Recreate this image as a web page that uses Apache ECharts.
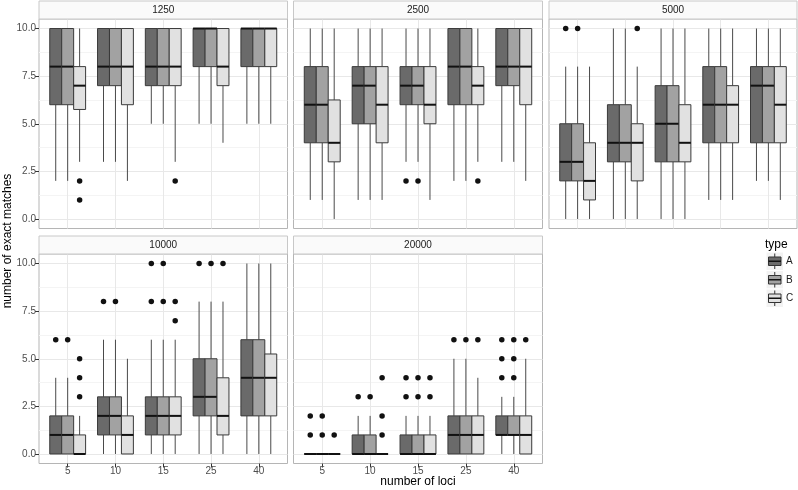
<!DOCTYPE html>
<html><head><meta charset="utf-8">
<script src="https://cdn.jsdelivr.net/npm/echarts@6/dist/echarts.min.js"></script>
<style>html,body{margin:0;padding:0;background:#fff}#c{width:798px;height:490px}</style>
</head><body><div id="c"></div><script>
const panels = ['1250', '2500', '5000', '10000', '20000'];
const loci = ['5', '10', '15', '25', '40'];
const types = ['A', 'B', 'C'];
const yTicks = ['0.0', '2.5', '5.0', '7.5', '10.0'];

// each row: [lower whisker, Q1, median, Q3, upper whisker] for loci 5,10,15,25,40
const box1250A = [[2,6,8,10,10],[3,7,8,10,10],[5,7,8,10,10],[5,8,10,10,10],[5,8,10,10,10]];
const box1250B = [[2,6,8,10,10],[3,7,8,10,10],[5,7,8,10,10],[5,8,10,10,10],[5,8,10,10,10]];
const box1250C = [[3,5.75,7,8,10],[2,6,8,10,10],[3,7,8,10,10],[4,7,8,10,10],[5,8,10,10,10]];
const box2500A = [[1,4,6,8,10],[1,5,7,8,10],[3,6,7,8,10],[2,6,8,10,10],[3,7,8,10,10]];
const box2500B = [[1,4,6,8,10],[1,5,7,8,10],[3,6,7,8,10],[2,6,8,10,10],[3,7,8,10,10]];
const box2500C = [[0,3,4,6.25,10],[1,4,6,8,10],[1,5,6,8,10],[3,6,7,8,10],[2,6,8,10,10]];
const box5000A = [[0,2,3,5,8],[0,3,4,6,10],[0,3,5,7,10],[1,4,6,8,10],[2,4,7,8,10]];
const box5000B = [[0,2,3,5,8],[0,3,4,6,10],[0,3,5,7,10],[1,4,6,8,10],[2,4,7,8,10]];
const box5000C = [[0,1,2,4,8],[0,2,4,5,8],[0,3,4,6,10],[1,4,6,7,10],[1,4,6,8,10]];
const box10000A = [[0,0,1,2,4],[0,1,2,3,6],[0,1,2,3,6],[0,2,3,5,8],[0,2,4,6,10]];
const box10000B = [[0,0,1,2,4],[0,1,2,3,6],[0,1,2,3,6],[0,2,3,5,8],[0,2,4,6,10]];
const box10000C = [[0,0,0,1,2],[0,0,1,2,5],[0,1,2,3,6],[0,1,2,4,8],[0,2,4,5.25,10]];
const box20000A = [[0,0,0,0,0],[0,0,0,1,2],[0,0,0,1,2],[0,0,1,2,5],[0,1,1,2,3]];
const box20000B = [[0,0,0,0,0],[0,0,0,1,2],[0,0,0,1,2],[0,0,1,2,5],[0,1,1,2,3]];
const box20000C = [[0,0,0,0,0],[0,0,0,0,0],[0,0,0,1,2],[0,0,1,2,4],[0,0,1,2,5]];

// outliers: [loci index, value]
const out1250A = [];
const out1250B = [];
const out1250C = [[0,2],[0,1],[2,2]];
const out2500A = [[2,2]];
const out2500B = [[2,2]];
const out2500C = [[3,2]];
const out5000A = [[0,10]];
const out5000B = [[0,10]];
const out5000C = [[1,10]];
const out10000A = [[0,6],[1,8],[2,8],[2,10],[3,10]];
const out10000B = [[0,6],[1,8],[2,8],[2,10],[3,10]];
const out10000C = [[0,3],[0,4],[0,5],[2,7],[2,8],[3,10]];
const out20000A = [[0,1],[0,2],[1,3],[2,3],[2,4],[3,6],[4,4],[4,5],[4,6]];
const out20000B = [[0,1],[0,2],[1,3],[2,3],[2,4],[3,6],[4,4],[4,5],[4,6]];
const out20000C = [[0,1],[1,1],[1,2],[1,4],[2,3],[2,4],[3,6],[4,6]];

const boxes = [
  [box1250A, box1250B, box1250C],
  [box2500A, box2500B, box2500C],
  [box5000A, box5000B, box5000C],
  [box10000A, box10000B, box10000C],
  [box20000A, box20000B, box20000C]
];
const outs = [
  [out1250A, out1250B, out1250C],
  [out2500A, out2500B, out2500C],
  [out5000A, out5000B, out5000C],
  [out10000A, out10000B, out10000C],
  [out20000A, out20000B, out20000C]
];

const FONT = '"Liberation Sans", Arial, sans-serif';
const fills = ['#6a6a6a', '#a2a2a2', '#e1e1e1'];
const dodge = 0.25;

const layout = [
  {left: 39, top: 19, width: 248.5, height: 209.5, yl: true, xl: false},
  {left: 293.5, top: 19, width: 249, height: 209.5, yl: false, xl: false},
  {left: 549, top: 19, width: 248, height: 209.5, yl: false, xl: false},
  {left: 39, top: 254, width: 248.5, height: 209.5, yl: true, xl: true},
  {left: 293.5, top: 254, width: 249, height: 209.5, yl: false, xl: true}
];

function makeRender(t) {
  const off = (t - 1) * dodge;
  return function (params, api) {
    const x = api.value(0) + off;
    const pLo = api.coord([x, api.value(1)]);
    const pQ1 = api.coord([x, api.value(2)]);
    const pMed = api.coord([x, api.value(3)]);
    const pQ3 = api.coord([x, api.value(4)]);
    const pHi = api.coord([x, api.value(5)]);
    const w = api.size([dodge, 0])[0];
    const cx = pMed[0];
    return {
      type: 'group',
      children: [
        {type: 'line', shape: {x1: cx, y1: pHi[1], x2: cx, y2: pQ3[1]}, style: {stroke: '#4a4a4a', lineWidth: 1}},
        {type: 'line', shape: {x1: cx, y1: pQ1[1], x2: cx, y2: pLo[1]}, style: {stroke: '#4a4a4a', lineWidth: 1}},
        {type: 'rect', shape: {x: cx - w / 2, y: pQ3[1], width: w, height: pQ1[1] - pQ3[1]},
          style: {fill: fills[t], stroke: '#3a3a3a', lineWidth: 1}},
        {type: 'line', shape: {x1: cx - w / 2, y1: pMed[1], x2: cx + w / 2, y2: pMed[1]},
          style: {stroke: '#111', lineWidth: 2}}
      ]
    };
  };
}

const grid = [], xAxis = [], yAxis = [], series = [], graphic = [];
layout.forEach((L, g) => {
  grid.push({left: L.left, top: L.top, width: L.width, height: L.height, show: true,
    borderColor: '#b5b5b5', borderWidth: 1, backgroundColor: '#fff'});
  xAxis.push({
    type: 'value', gridIndex: g, min: -0.6, max: 4.6, minInterval: 1, maxInterval: 1,
    position: 'bottom',
    axisLine: {show: false, onZero: false},
    axisTick: {show: L.xl, length: 4, lineStyle: {color: '#333'}, customValues: [0, 1, 2, 3, 4]},
    axisLabel: {show: L.xl, color: '#4d4d4d', fontSize: 10, fontFamily: FONT, margin: 3,
      formatter: v => Number.isInteger(v) && v >= 0 && v <= 4 ? loci[Math.abs(v)] : ''},
    splitLine: {show: true, lineStyle: {color: '#e8e8e8', width: 1}}
  });
  yAxis.push({
    type: 'value', gridIndex: g, min: -0.5, max: 10.5, minInterval: 2.5, maxInterval: 2.5,
    position: 'left',
    axisLine: {show: false, onZero: false},
    axisTick: {show: L.yl, length: 4, lineStyle: {color: '#333'}, customValues: [0, 2.5, 5, 7.5, 10]},
    axisLabel: {show: L.yl, color: '#4d4d4d', fontSize: 10, fontFamily: FONT, margin: 3,
      formatter: v => {
        const k = v / 2.5;
        return Number.isInteger(k) && k >= 0 && k < yTicks.length ? yTicks[k] : '';
      }},
    splitLine: {show: true, lineStyle: {color: '#e8e8e8', width: 1}},
    minorTick: {show: false, splitNumber: 2},
    minorSplitLine: {show: true, lineStyle: {color: '#f4f4f4', width: 1}}
  });
  for (let t = 0; t < 3; t++) {
    series.push({
      type: 'custom', name: types[t], xAxisIndex: g, yAxisIndex: g,
      renderItem: makeRender(t),
      encode: {x: 0, y: [1, 2, 3, 4, 5]},
      data: boxes[g][t].map((r, i) => [i].concat(r)),
      z: 2
    });
  }
  for (let t = 0; t < 3; t++) {
    series.push({
      type: 'scatter', name: types[t] + ' outliers', xAxisIndex: g, yAxisIndex: g,
      symbol: 'circle', symbolSize: 5.5,
      itemStyle: {color: '#111', opacity: 1},
      data: outs[g][t].map(p => [p[0] + (t - 1) * dodge, p[1]]),
      z: 3, silent: true
    });
  }
  // facet strip
  graphic.push({type: 'rect', shape: {x: L.left, y: L.top - 18, width: L.width, height: 18},
    style: {fill: '#fafafa', stroke: '#c8c8c8', lineWidth: 1}, z: 10});
  graphic.push({type: 'text', x: L.left + L.width / 2, y: L.top - 9,
    style: {text: panels[g], fill: '#1a1a1a', font: '10px ' + FONT, align: 'center', verticalAlign: 'middle'}, z: 11});
});

// axis titles
graphic.push({type: 'text', x: 418, y: 482,
  style: {text: 'number of loci', fill: '#000', font: '12px ' + FONT, align: 'center', verticalAlign: 'middle'}});
graphic.push({type: 'text', x: 8, y: 241, rotation: Math.PI / 2,
  style: {text: 'number of exact matches', fill: '#000', font: '12px ' + FONT, align: 'center', verticalAlign: 'middle'}});

// legend
graphic.push({type: 'text', x: 765, y: 245,
  style: {text: 'type', fill: '#000', font: '12px ' + FONT, align: 'left', verticalAlign: 'middle'}});
types.forEach((name, t) => {
  const ky = 252 + t * 18.5;
  graphic.push({type: 'rect', shape: {x: 766, y: ky, width: 17.5, height: 18.5},
    style: {fill: '#f2f2f2', stroke: '#ffffff', lineWidth: 1}});
  graphic.push({type: 'line', shape: {x1: 774.75, y1: ky + 1.5, x2: 774.75, y2: ky + 17}, style: {stroke: '#333', lineWidth: 1}});
  graphic.push({type: 'rect', shape: {x: 768.5, y: ky + 5, width: 12.5, height: 8.5},
    style: {fill: fills[t], stroke: '#333', lineWidth: 1}});
  graphic.push({type: 'line', shape: {x1: 768.5, y1: ky + 9.25, x2: 781, y2: ky + 9.25}, style: {stroke: '#111', lineWidth: 1.5}});
  graphic.push({type: 'text', x: 786, y: ky + 9.5,
    style: {text: name, fill: '#1a1a1a', font: '10px ' + FONT, align: 'left', verticalAlign: 'middle'}});
});

const chart = echarts.init(document.getElementById('c'), null, {renderer: 'canvas'});
chart.setOption({
  animation: false,
  backgroundColor: '#fff',
  textStyle: {fontFamily: FONT},
  grid, xAxis, yAxis, series, graphic
});
</script></body></html>
